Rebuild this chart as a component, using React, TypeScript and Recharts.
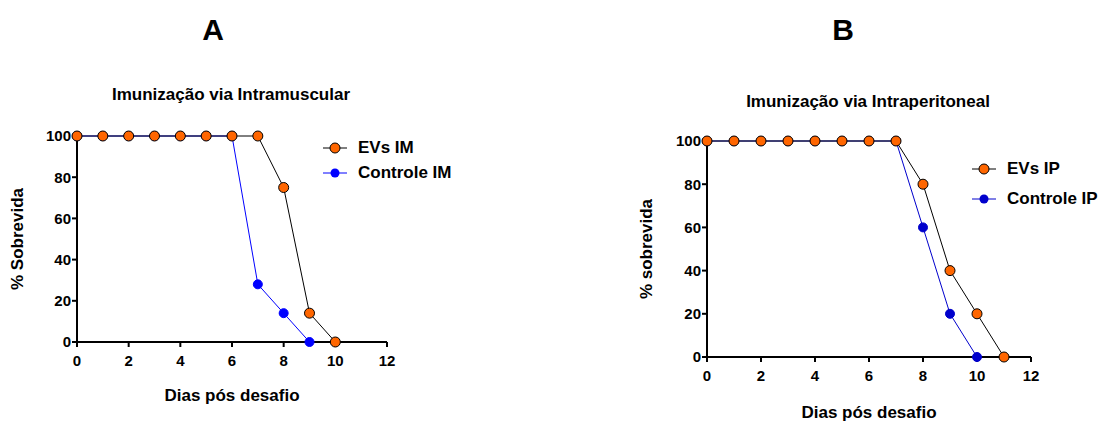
import React from 'react';
import { LineChart, Line, XAxis, YAxis } from 'recharts';

// dias pós desafio e % sobrevida
const diasEvsIM = [0, 1, 2, 3, 4, 5, 6, 7, 8, 9, 10];
const evsIM = [100, 100, 100, 100, 100, 100, 100, 100, 75, 14, 0];
const diasControleIM = [0, 1, 2, 3, 4, 5, 6, 7, 8, 9];
const controleIM = [100, 100, 100, 100, 100, 100, 100, 28, 14, 0];

const diasEvsIP = [0, 1, 2, 3, 4, 5, 6, 7, 8, 9, 10, 11];
const evsIP = [100, 100, 100, 100, 100, 100, 100, 100, 80, 40, 20, 0];
const diasControleIP = [0, 1, 2, 3, 4, 5, 6, 7, 8, 9, 10];
const controleIP = [100, 100, 100, 100, 100, 100, 100, 100, 60, 20, 0];

const xTicks = [0, 2, 4, 6, 8, 10, 12];
const yTicks = [0, 20, 40, 60, 80, 100];

const FONT = '"Liberation Sans", Arial, sans-serif';
const ORANGE = '#ff6600';

function toRows(xs: number[], ys: number[]) {
    return xs.map((x, i) => ({ x, v: ys[i] }));
}

interface PanelProps {
    left: number;
    letter: string;
    letterX: number;
    title: string;
    titleX: number;
    titleY: number;
    yLabel: string;
    yLabelX: number;
    xLabelY: number;
    margin: { top: number; right: number; bottom: number; left: number };
    evs: { x: number; v: number }[];
    controle: { x: number; v: number }[];
    blue: string;
    legendX: number;
    legendY: number[];
    legendNames: string[];
}

const txt = (x: number, y: number, size: number, rotate = false): React.CSSProperties => ({
    position: 'absolute',
    left: x,
    top: y,
    transform: `translate(-50%, -50%)${rotate ? ' rotate(-90deg)' : ''}`,
    fontFamily: FONT,
    fontWeight: 'bold',
    fontSize: size,
    whiteSpace: 'nowrap',
    color: '#000',
});

function Panel(p: PanelProps) {
    const W = 551;
    const H = 423;
    const plotMidX = p.margin.left + 40 + (W - p.margin.left - 40 - p.margin.right) / 2;
    const plotMidY = p.margin.top + (H - p.margin.top - p.margin.bottom - 30) / 2;
    const axisStyle = { stroke: '#000', strokeWidth: 2 };
    const tickStyle = { fill: '#000', fontSize: 15, fontWeight: 'bold', fontFamily: FONT };
    return (
        <div style={{ position: 'absolute', left: p.left, top: 0, width: W, height: H }}>
            <LineChart width={W} height={H} data={p.evs} margin={p.margin}>
                <XAxis
                    dataKey="x"
                    type="number"
                    domain={[0, 12]}
                    ticks={xTicks}
                    height={30}
                    axisLine={axisStyle}
                    tickLine={axisStyle}
                    tickSize={5}
                    tickMargin={8}
                    tick={tickStyle}
                />
                <YAxis
                    type="number"
                    domain={[0, 100]}
                    ticks={yTicks}
                    width={40}
                    axisLine={axisStyle}
                    tickLine={axisStyle}
                    tickSize={5}
                    tickMargin={1}
                    tick={tickStyle}
                />
                <Line
                    data={p.controle}
                    dataKey="v"
                    stroke={p.blue}
                    strokeWidth={1}
                    dot={{ r: 4.5, fill: p.blue, stroke: p.blue, strokeWidth: 1 }}
                    isAnimationActive={false}
                />
                <Line
                    data={p.evs}
                    dataKey="v"
                    stroke="#000"
                    strokeWidth={1}
                    dot={{ r: 5, fill: ORANGE, stroke: '#000', strokeWidth: 1 }}
                    isAnimationActive={false}
                />
            </LineChart>
            <div style={txt(p.letterX, 30, 30)}>{p.letter}</div>
            <div style={txt(p.titleX, p.titleY, 17)}>{p.title}</div>
            <div style={txt(p.yLabelX, plotMidY, 17, true)}>{p.yLabel}</div>
            <div style={txt(plotMidX, p.xLabelY, 17)}>Dias pós desafio</div>
            {p.legendNames.map((name, i) => (
                <div
                    key={name}
                    style={{
                        position: 'absolute',
                        left: p.legendX,
                        top: p.legendY[i] - 10,
                        height: 20,
                        display: 'flex',
                        alignItems: 'center',
                        fontFamily: FONT,
                        fontWeight: 'bold',
                        fontSize: 17,
                        whiteSpace: 'nowrap',
                    }}
                >
                    <svg width={24} height={12} style={{ marginRight: 11 }}>
                        <line x1={0} y1={6} x2={24} y2={6} stroke={i === 0 ? '#000' : p.blue} strokeWidth={1} />
                        {i === 0 ? (
                            <circle cx={12} cy={6} r={5} fill={ORANGE} stroke="#000" strokeWidth={1} />
                        ) : (
                            <circle cx={12} cy={6} r={4.5} fill={p.blue} />
                        )}
                    </svg>
                    {name}
                </div>
            ))}
        </div>
    );
}

export default function App() {
    return (
        <div style={{ position: 'absolute', left: 0, top: 0, width: 1102, height: 423, background: '#fff' }}>
            <Panel
                left={0}
                letter="A"
                letterX={213}
                title="Imunização via Intramuscular"
                titleX={231}
                titleY={95}
                yLabel="% Sobrevida"
                yLabelX={18}
                xLabelY={396}
                margin={{ top: 136, right: 164, bottom: 51, left: 37 }}
                evs={toRows(diasEvsIM, evsIM)}
                controle={toRows(diasControleIM, controleIM)}
                blue="#0000ff"
                legendX={323}
                legendY={[148, 173]}
                legendNames={['EVs IM', 'Controle IM']}
            />
            <Panel
                left={551}
                letter="B"
                letterX={292}
                title="Imunização via Intraperitoneal"
                titleX={317}
                titleY={102}
                yLabel="% sobrevida"
                yLabelX={96}
                xLabelY={413}
                margin={{ top: 141, right: 71, bottom: 36, left: 116 }}
                evs={toRows(diasEvsIP, evsIP)}
                controle={toRows(diasControleIP, controleIP)}
                blue="#0000cc"
                legendX={421}
                legendY={[169, 199]}
                legendNames={['EVs IP', 'Controle IP']}
            />
        </div>
    );
}
